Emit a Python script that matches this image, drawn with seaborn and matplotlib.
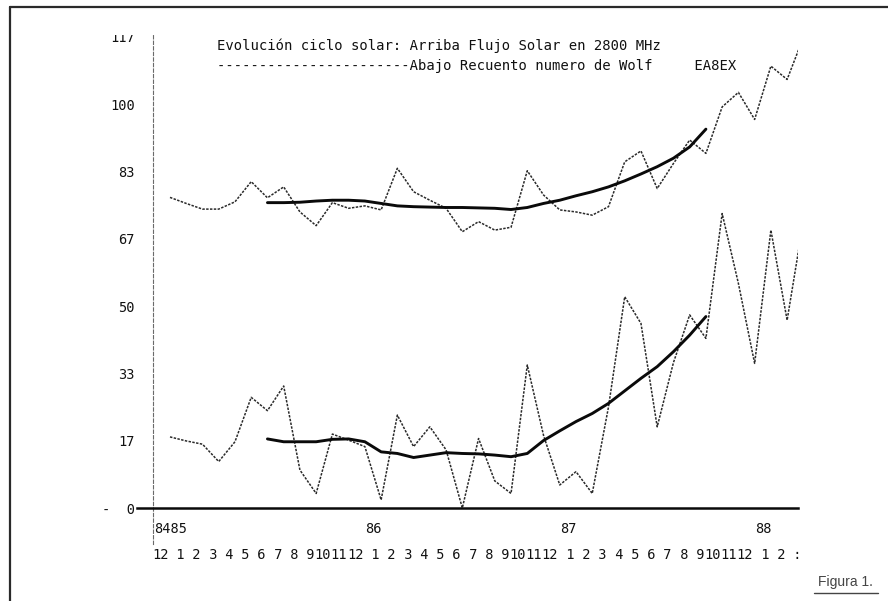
import numpy as np
import pandas as pd
import matplotlib
matplotlib.use("Agg")
import matplotlib.pyplot as plt
import seaborn as sns
from matplotlib.lines import Line2D
from matplotlib.patches import Rectangle

# Monthly values, Dec 1984 .. Mar 1988 (index 0 = Dec 84)
month_labels = ["12", " 1", " 2", " 3", " 4", " 5", " 6", " 7", " 8", " 9", "10", "11", "12",
                " 1", " 2", " 3", " 4", " 5", " 6", " 7", " 8", " 9", "10", "11", "12",
                " 1", " 2", " 3", " 4", " 5", " 6", " 7", " 8", " 9", "10", "11", "12",
                " 1", " 2", " :"]
year_labels = ["8485", "86", "87", "88"]
year_month_index = [0.5, 13, 25, 37]

# 2800 MHz solar flux, monthly mean
flux = [76.9, 75.4, 74.0, 74.0, 75.8, 80.8, 76.8, 79.5, 73.3, 69.9,
        75.6, 74.2, 74.8, 73.8, 84.1, 78.3, 76.2, 74.2, 68.4, 70.9,
        68.8, 69.5, 83.5, 77.5, 73.8, 73.3, 72.5, 74.6, 85.7, 88.4,
        79.1, 85.3, 91.1, 87.8, 99.3, 102.9, 96.2, 109.4, 106.1, 116.5]
# 13-month smoothed flux (months 6 .. 33)
flux_smooth = [75.6, 75.6, 75.7, 76.0, 76.2, 76.2, 76.0, 75.4, 74.8, 74.6,
               74.5, 74.4, 74.4, 74.3, 74.2, 73.9, 74.4, 75.4, 76.2, 77.3,
               78.3, 79.5, 81.0, 82.7, 84.5, 86.6, 89.4, 93.8]

# Wolf sunspot number, monthly mean
wolf = [17.6, 16.6, 15.8, 11.5, 16.4, 27.4, 24.1, 30.2, 9.4, 3.6,
        18.3, 16.8, 15.2, 2.0, 23.0, 15.2, 20.1, 14.4, 0.0, 17.2,
        6.7, 3.6, 35.4, 18.0, 5.7, 9.0, 3.6, 25.0, 52.3, 45.7,
        20.1, 36.0, 47.8, 42.0, 72.9, 55.6, 35.8, 68.8, 46.5, 71.0]
# 13-month smoothed Wolf number (months 6 .. 33)
wolf_smooth = [17.1, 16.4, 16.4, 16.4, 17.0, 17.1, 16.4, 13.9, 13.5, 12.5,
               13.1, 13.7, 13.5, 13.4, 13.1, 12.7, 13.5, 16.7, 19.1, 21.4,
               23.4, 25.9, 29.0, 32.1, 35.0, 38.7, 42.8, 47.4]
smooth_start = 6

ytick_values = [0, 50 / 3, 100 / 3, 50, 200 / 3, 250 / 3, 100, 350 / 3]
ytick_labels = ["-  0", "17", "33", "50", "67", "83", "100", "117"]

title_1 = "Evolución ciclo solar: Arriba Flujo Solar en 2800 MHz"
title_2 = "-----------------------Abajo Recuento numero de Wolf     EA8EX"
caption = "Figura 1."

sns.set_theme(style="white")
plt.rcParams["font.family"] = ["DejaVu Sans Mono", "DejaVu Sans"]

W, H = 888, 601
fig = plt.figure(figsize=(W / 100, H / 100), dpi=100)
fig.patch.set_facecolor("white")


def fx(px):
    return px / W


def fy(py):
    return (H - py) / H


ax = fig.add_axes([fx(153), fy(508), fx(798) - fx(153), fy(33) - fy(508)])
ax.set_facecolor("white")

months = np.arange(len(flux))
smooth_x = np.arange(smooth_start, smooth_start + len(flux_smooth))

df = pd.DataFrame({"mes": months, "flujo": flux, "wolf": wolf})
dfs = pd.DataFrame({"mes": smooth_x, "flujo": flux_smooth, "wolf": wolf_smooth})

thin = dict(color="#2a2a2a", lw=1.1, linestyle=(0, (1.6, 0.9)))
thick = dict(color="#0a0a0a", lw=2.1, linestyle="-")

sns.lineplot(data=df, x="mes", y="flujo", ax=ax, **thin)
sns.lineplot(data=df, x="mes", y="wolf", ax=ax, **thin)
sns.lineplot(data=dfs, x="mes", y="flujo", ax=ax, **thick)
sns.lineplot(data=dfs, x="mes", y="wolf", ax=ax, **thick)

ax.set_xlim(-1.047, 38.67)
ax.set_ylim(0, 117.6)
ax.set_xlabel("")
ax.set_ylabel("")

for s in ("top", "right"):
    ax.spines[s].set_visible(False)
ax.spines["left"].set_color("#6a6a6a")
ax.spines["left"].set_linewidth(0.8)
ax.spines["left"].set_linestyle((0, (3, 2)))
ax.spines["left"].set_bounds(-9, 117.6)
ax.spines["bottom"].set_color("#0a0a0a")
ax.spines["bottom"].set_linewidth(1.8)
ax.spines["bottom"].set_bounds(-2.05, 38.67)

ax.set_yticks(ytick_values)
ax.set_yticklabels(ytick_labels)
ax.tick_params(axis="y", length=0, pad=13, labelsize=9.8, labelcolor="#111")

ax.set_xticks(months - 0.6)
ax.set_xticklabels(month_labels)
ax.set_xticks(np.array(year_month_index) - 0.45, minor=True)
ax.set_xticklabels(year_labels, minor=True)
ax.xaxis.remove_overlapping_locs = False
ax.tick_params(axis="x", which="major", length=0, pad=29, labelsize=9.8, labelcolor="#111")
ax.tick_params(axis="x", which="minor", length=0, pad=10, labelsize=9.8, labelcolor="#111")
ax.grid(False)

# Heading lines
fig.text(fx(217), fy(46), title_1, ha="left", va="center", fontsize=10.0, color="#111")
fig.text(fx(217), fy(66), title_2, ha="left", va="center", fontsize=10.0, color="#111")

# Page frame, trimmed top edge and caption
fig.add_artist(Line2D([fx(10), fx(10)], [fy(7), fy(601)], color="#2a2a2a", lw=1.6))
fig.add_artist(Line2D([fx(10), fx(888)], [fy(7), fy(7)], color="#2a2a2a", lw=1.6))
fig.add_artist(Rectangle((fx(90), fy(35)), fx(60), fy(9) - fy(35), facecolor="white",
                         edgecolor="none", zorder=5))
fig.text(fx(818), fy(582), caption, ha="left", va="center", fontsize=10.0,
         color="#444", family=["Liberation Sans", "DejaVu Sans"])
fig.add_artist(Line2D([fx(814), fx(878)], [fy(593), fy(593)], color="#444", lw=1.0))

fig.savefig("out.png", dpi=100, facecolor="white")
